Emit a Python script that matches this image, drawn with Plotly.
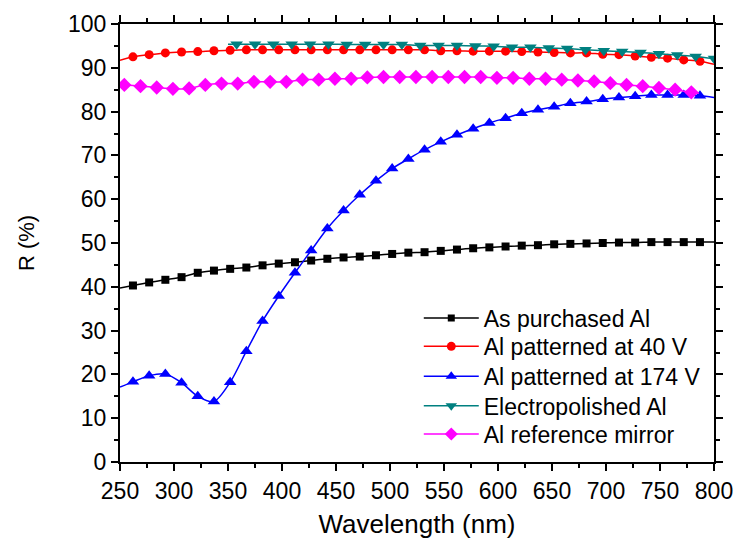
import plotly.graph_objects as go

# ---- data ----
wl_markers = [262, 277, 292, 307, 322, 337, 352, 367, 382, 397, 412, 427, 442, 457, 472, 487, 502, 517,
              532, 547, 562, 577, 592, 607, 622, 637, 652, 667, 682, 697, 712, 727, 742, 757, 772, 787]
wl_mirror = [254, 269, 284, 299, 314, 329, 344, 359, 374, 389, 404, 419, 434, 449, 464, 479, 494, 509,
             524, 539, 554, 569, 584, 599, 614, 629, 644, 659, 674, 689, 704, 719, 734, 749, 764, 779]
wl_polished = [358, 375, 392, 409, 426, 443, 460, 477, 494, 511, 528, 545, 562, 579, 596, 613, 630, 647,
               664, 681, 698, 715, 732, 749, 766, 783, 800]

as_purchased = [40.3, 41.0, 41.6, 42.2, 43.2, 43.7, 44.1, 44.4, 44.9, 45.3, 45.6, 46.0, 46.4, 46.7, 46.9,
                47.2, 47.5, 47.8, 47.9, 48.2, 48.5, 48.8, 49.0, 49.2, 49.4, 49.5, 49.7, 49.8, 49.9, 50.0,
                50.1, 50.1, 50.2, 50.2, 50.2, 50.2]
patterned_40 = [92.5, 93.0, 93.4, 93.6, 93.7, 93.9, 94.0, 94.1, 94.1, 94.1, 94.1, 94.1, 94.1, 94.1, 94.1,
                94.1, 94.1, 94.1, 94.1, 93.9, 93.9, 93.8, 93.8, 93.8, 93.7, 93.6, 93.5, 93.4, 93.4, 93.1,
                93.0, 92.7, 92.4, 92.2, 91.8, 91.5]
patterned_174 = [18.3, 19.7, 20.1, 18.1, 15.0, 13.8, 18.2, 25.3, 32.2, 37.9, 43.2, 48.3, 53.3, 57.4, 61.0,
                 64.2, 67.0, 69.2, 71.3, 73.1, 74.7, 76.1, 77.4, 78.5, 79.6, 80.4, 81.1, 81.9, 82.3, 82.8,
                 83.2, 83.5, 83.8, 83.8, 83.8, 83.6]
electropolished = [95.4, 95.4, 95.4, 95.4, 95.4, 95.4, 95.3, 95.3, 95.3, 95.3, 95.1, 95.1, 95.1, 95.0,
                   94.9, 94.7, 94.7, 94.5, 94.4, 94.1, 93.9, 93.7, 93.5, 93.2, 92.9, 92.6, 92.1]
ref_mirror = [86.1, 85.8, 85.5, 85.2, 85.3, 86.1, 86.4, 86.4, 86.8, 86.8, 86.8, 87.3, 87.3, 87.5, 87.5,
              87.8, 87.9, 87.9, 87.9, 87.9, 87.9, 87.9, 87.9, 87.7, 87.7, 87.5, 87.5, 87.3, 87.1, 86.9,
              86.5, 86.1, 85.8, 85.4, 85.0, 84.4]

# line end points (curve extends beyond the first/last symbol)
ends = {
    "As purchased Al": ((250, 39.7), (800, 50.2)),
    "Al patterned at 40 V": ((250, 91.7), (800, 90.8)),
    "Al patterned at 174 V": ((250, 17.1), (800, 83.2)),
    "Electropolished Al": ((350, 95.4), None),
    "Al reference mirror": ((250, 86.2), (786, 84.2)),
}

series = [
    ("As purchased Al", wl_markers, as_purchased, "#000000", "square", 8),
    ("Al patterned at 40 V", wl_markers, patterned_40, "#FF0000", "circle", 9),
    ("Al patterned at 174 V", wl_markers, patterned_174, "#0000FF", "triangle-up", 11),
    ("Electropolished Al", wl_polished, electropolished, "#008080", "triangle-down", 11),
    ("Al reference mirror", wl_mirror, ref_mirror, "#FF00FF", "diamond", 11),
]
legend_sizes = [7, 9, 10, 10, 10]

FONT = "Liberation Sans, Arial, sans-serif"
legend_rows_y = [0.3288, 0.2639, 0.1954, 0.1285, 0.0638]

fig = go.Figure()
for i, (name, xs, ys, col, sym, sz) in enumerate(series):
    start, end = ends[name]
    lx = ([start[0]] if start else []) + list(xs) + ([end[0]] if end else [])
    ly = ([start[1]] if start else []) + list(ys) + ([end[1]] if end else [])
    fig.add_trace(go.Scatter(x=lx, y=ly, mode="lines", showlegend=False,
                             line=dict(color=col, width=1.5, shape="spline", smoothing=0.8),
                             hoverinfo="skip"))
    fig.add_trace(go.Scatter(x=xs, y=ys, mode="markers", showlegend=False,
                             marker=dict(symbol=sym, size=sz, color=col, line=dict(width=0))))

legend_layouts = {}
for i, (name, xs, ys, col, sym, sz) in enumerate(series):
    lg = "legend" if i == 0 else f"legend{i + 1}"
    fig.add_trace(go.Scatter(x=[None], y=[None], mode="lines+markers", name=name,
                             legend=lg,
                             line=dict(color=col, width=1.5),
                             marker=dict(symbol=sym, size=legend_sizes[i], color=col, line=dict(width=0))))
    legend_layouts[lg] = dict(x=0.503, y=legend_rows_y[i], xanchor="left", yanchor="middle",
                              font=dict(family=FONT, size=23, color="black"),
                              bgcolor="rgba(0,0,0,0)", itemwidth=55, borderwidth=0)

axis_common = dict(showline=True, linecolor="black", linewidth=2, mirror="allticks",
                   ticks="outside", ticklen=7, tickwidth=1.5, tickcolor="black",
                   showgrid=False, zeroline=False, automargin=False,
                   tickfont=dict(family=FONT, size=23, color="black"))

fig.update_xaxes(range=[250, 800], dtick=50, tick0=250,
                 minor=dict(ticks="outside", ticklen=4, tickwidth=1.5, tickcolor="black", dtick=25),
                 title=dict(text="Wavelength (nm)", font=dict(family=FONT, size=26, color="black"),
                            standoff=25),
                 **axis_common)
fig.update_yaxes(range=[0, 100], dtick=10, tick0=0,
                 minor=dict(ticks="outside", ticklen=4, tickwidth=1.5, tickcolor="black", dtick=5),
                 title=dict(text="R (%)", font=dict(family=FONT, size=22, color="black"),
                            standoff=27),
                 **axis_common)

fig.update_layout(
    width=735, height=539,
    margin=dict(l=120, r=21, t=24, b=77),
    paper_bgcolor="white", plot_bgcolor="white",
    showlegend=True,
    **legend_layouts,
)

fig.write_html("out.html")
